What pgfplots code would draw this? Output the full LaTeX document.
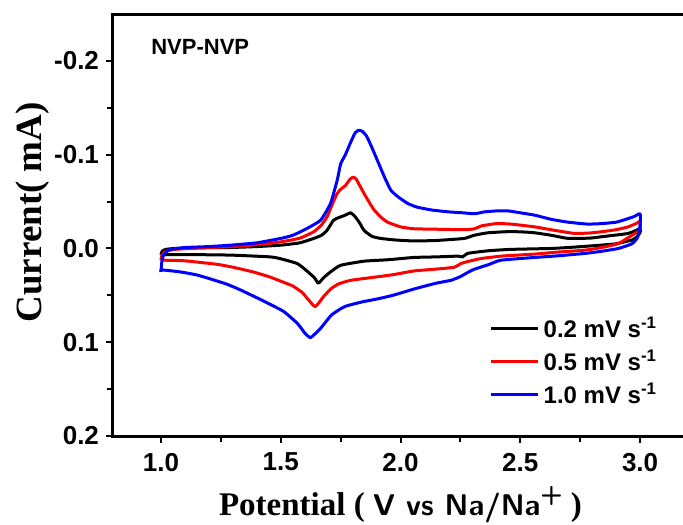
\documentclass[border=0pt]{standalone}
\usepackage{fontspec}
\setmainfont{Liberation Sans}
\newfontfamily\tnr{Liberation Serif}
\usepackage{pgfplots}
\pgfplotsset{compat=1.18}

\pgfplotstableread{
V I
1.000 0.0068
1.005 0.003
1.020 0.001
1.060 0.000
1.150 -0.0005
1.200 -0.0008
1.290 -0.001
1.400 -0.002
1.500 -0.0035
1.580 -0.006
1.638 -0.0107
1.670 -0.014
1.694 -0.0195
1.720 -0.030
1.743 -0.033
1.765 -0.035
1.792 -0.038
1.810 -0.034
1.830 -0.027
1.847 -0.0195
1.880 -0.013
1.917 -0.0107
1.980 -0.009
2.056 -0.008
2.150 -0.0085
2.266 -0.0107
2.307 -0.014
2.365 -0.0167
2.460 -0.018
2.550 -0.017
2.630 -0.014
2.690 -0.011
2.727 -0.0107
2.790 -0.011
2.840 -0.0125
2.950 -0.016
3.000 -0.021
3.000 -0.017
2.985 -0.012
2.966 -0.009
2.900 -0.005
2.840 -0.0036
2.730 -0.0015
2.630 0.000
2.460 0.001
2.365 0.0025
2.280 0.0053
2.260 0.009
2.239 0.0082
2.150 0.0090
2.056 0.0096
1.950 0.012
1.847 0.0136
1.750 0.018
1.708 0.025
1.680 0.031
1.657 0.037
1.640 0.031
1.600 0.022
1.568 0.016
1.500 0.011
1.456 0.009
1.290 0.0071
1.100 0.0065
1.000 0.0068
}\slow

\pgfplotstableread{
V I
1.000 0.0125
1.005 0.007
1.020 0.003
1.060 0.001
1.150 -0.0005
1.290 -0.0018
1.400 -0.004
1.500 -0.007
1.580 -0.011
1.638 -0.0178
1.670 -0.025
1.694 -0.034
1.720 -0.050
1.736 -0.0587
1.750 -0.063
1.770 -0.067
1.790 -0.074
1.803 -0.076
1.815 -0.074
1.830 -0.067
1.847 -0.059
1.870 -0.049
1.890 -0.041
1.920 -0.033
1.946 -0.028
2.000 -0.023
2.056 -0.021
2.150 -0.0205
2.266 -0.020
2.310 -0.021
2.337 -0.024
2.400 -0.0265
2.460 -0.026
2.560 -0.023
2.650 -0.019
2.727 -0.016
2.790 -0.0165
2.840 -0.0178
2.900 -0.020
2.950 -0.023
2.987 -0.027
3.000 -0.029
3.000 -0.020
2.985 -0.017
2.966 -0.014
2.910 -0.0053
2.840 -0.001
2.770 0.0018
2.650 0.004
2.560 0.006
2.460 0.0075
2.420 0.0082
2.337 0.0107
2.280 0.014
2.253 0.016
2.224 0.020
2.150 0.022
2.056 0.024
1.968 0.028
1.880 0.031
1.792 0.034
1.740 0.038
1.710 0.043
1.680 0.051
1.645 0.062
1.620 0.056
1.590 0.047
1.550 0.040
1.511 0.036
1.450 0.030
1.384 0.025
1.300 0.020
1.237 0.017
1.150 0.0145
1.090 0.013
1.000 0.0125
}\mid

\pgfplotstableread{
V I
1.000 0.025
1.005 0.012
1.015 0.005
1.040 0.001
1.100 -0.001
1.200 -0.002
1.290 -0.0035
1.400 -0.006
1.500 -0.0107
1.550 -0.014
1.600 -0.020
1.666 -0.030
1.708 -0.048
1.736 -0.073
1.750 -0.090
1.770 -0.100
1.790 -0.112
1.810 -0.123
1.825 -0.126
1.840 -0.125
1.858 -0.120
1.880 -0.108
1.910 -0.090
1.935 -0.075
1.960 -0.062
1.990 -0.055
2.030 -0.048
2.070 -0.044
2.130 -0.041
2.200 -0.039
2.260 -0.038
2.310 -0.037
2.350 -0.039
2.400 -0.040
2.450 -0.040
2.500 -0.038
2.560 -0.0355
2.630 -0.031
2.700 -0.028
2.780 -0.026
2.840 -0.0265
2.900 -0.028
2.940 -0.031
2.975 -0.034
3.000 -0.037
3.000 -0.025
2.990 -0.012
2.966 -0.005
2.910 0.000
2.840 0.003
2.770 0.0053
2.650 0.008
2.560 0.0096
2.420 0.0125
2.370 0.017
2.300 0.023
2.250 0.030
2.210 0.034
2.150 0.037
2.060 0.043
1.968 0.050
1.900 0.054
1.840 0.057
1.767 0.062
1.712 0.071
1.667 0.085
1.625 0.095
1.600 0.090
1.570 0.080
1.511 0.067
1.420 0.055
1.330 0.044
1.274 0.038
1.200 0.032
1.146 0.028
1.080 0.025
1.030 0.0235
1.000 0.023
1.000 0.025
}\fast

\begin{document}
\begin{tikzpicture}
\begin{axis}[
    name=ax,
    scale only axis,
    width=287.5bp, height=211bp,
    xmin=0.8, xmax=3.2,
    ymin=-0.25, ymax=0.2,
    y dir=reverse,
    axis x line=box,
    axis y line=left,
    xtick pos=bottom,
    ytick pos=left,
    xtick={1.0,1.5,2.0,2.5,3.0},
    xticklabels={1.0,1.5,2.0,2.5,3.0},
    ytick={-0.2,-0.1,0.0,0.1,0.2},
    yticklabels={-0.2,-0.1,0.0,0.1,0.2},
    minor x tick num=1,
    minor y tick num=1,
    tick align=outside,
    major tick length=3.5bp,
    minor tick length=3bp,
    every tick/.style={black, line width=1bp},
    axis line style={-, line width=1.5bp, line cap=rect},
    ticklabel style={font=\fontsize{13bp}{15bp}\selectfont\bfseries},
    xticklabel style={yshift=-1.5bp},
    xlabel={{\fontsize{16.5bp}{18bp}\selectfont\tnr\bfseries Potential (} {\sffamily\bfseries V vs Na/Na\raisebox{0.42em}{\fontsize{13bp}{13bp}\selectfont +}} {\fontsize{16.5bp}{18bp}\selectfont\tnr\bfseries )}},
    xlabel style={font=\fontsize{15bp}{18bp}\selectfont, at={(rel axis cs:0.5,0)}, anchor=base, yshift=-39.5bp},
    ylabel={\tnr\bfseries Current( mA)},
    ylabel style={font=\fontsize{18.5bp}{22bp}\selectfont, at={(rel axis cs:-0.139,0.53)}, anchor=center},
    legend style={draw=none, fill=none, at={(rel axis cs:0.644,0.302)}, anchor=north west,
        font=\fontsize{12bp}{13bp}\selectfont\bfseries, row sep=1bp},
    legend cell align=left,
    legend image code/.code={\draw[#1, line width=1.5bp] (0bp,0bp) -- (23.5bp,0bp);},
    every axis plot/.append style={line width=1.5bp, line join=round, smooth, tension=0.3},
]
\addplot[black] table[x=V, y=I] {\slow};
\addplot[red] table[x=V, y=I] {\mid};
\addplot[blue] table[x=V, y=I] {\fast};
\legend{0.2 mV s\textsuperscript{-1}, 0.5 mV s\textsuperscript{-1}, 1.0 mV s\textsuperscript{-1}}
\node[anchor=base west, inner sep=0pt, font=\fontsize{11bp}{13bp}\selectfont\bfseries] at (rel axis cs:0.066,0.903) {NVP-NVP};
\end{axis}
\pgfresetboundingbox
\path[use as bounding box] ([shift={(-56.5bp,-44.5bp)}]ax.south west) rectangle ([shift={(285bp,7bp)}]ax.north west);
\end{tikzpicture}
\end{document}
